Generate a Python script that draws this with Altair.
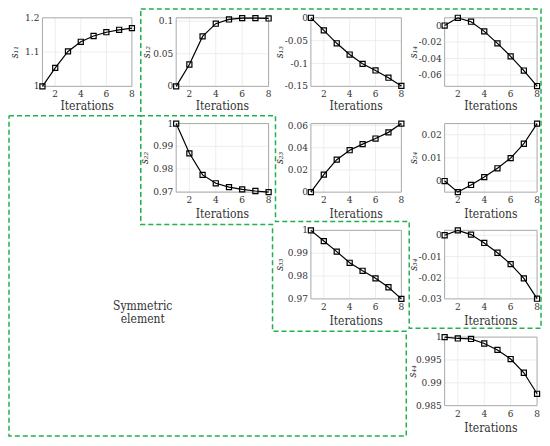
import altair as alt
import pandas as pd

# ---------------- data ----------------
ITER = [1, 2, 3, 4, 5, 6, 7, 8]

S11 = [1.0, 1.054, 1.102, 1.130, 1.147, 1.158, 1.165, 1.170]
S12 = [0.0, 0.0335, 0.0765, 0.096, 0.1025, 0.1045, 0.1045, 0.104]
S13 = [0.0, -0.0275, -0.0558, -0.0804, -0.1007, -0.1152, -0.131, -0.149]
S14 = [0.0, 0.0094, 0.0047, -0.007, -0.0216, -0.0373, -0.0545, -0.0733]
S22 = [1.0, 0.9869, 0.9774, 0.9737, 0.972, 0.971, 0.9703, 0.9698]
S23 = [0.0, 0.0158, 0.0293, 0.0378, 0.0433, 0.0483, 0.0539, 0.0618]
S24 = [0.0, -0.0048, -0.0017, 0.0017, 0.0055, 0.0099, 0.0161, 0.0248]
S33 = [1.0, 0.9953, 0.9907, 0.9858, 0.9823, 0.979, 0.9751, 0.970]
S34 = [0.0, 0.0023, 0.0003, -0.0036, -0.0082, -0.0135, -0.0202, -0.0297]
S44 = [1.0, 0.9997, 0.9996, 0.9986, 0.9972, 0.9952, 0.9922, 0.9876]

X_TICKS = [2, 4, 6, 8]
X_TICK_LABELS = ["2", "4", "6", "8"]
X_TITLE = "Iterations"

Y11_DOM, Y11_TICKS, Y11_LAB = [1.0, 1.2], [1.0, 1.1, 1.2], ["1", "1.1", "1.2"]
Y12_DOM, Y12_TICKS, Y12_LAB = [0.0, 0.105], [0.0, 0.05, 0.1], ["0", "0.05", "0.1"]
Y13_DOM, Y13_TICKS, Y13_LAB = [-0.15, 0.0], [-0.15, -0.1, -0.05, 0.0], ["-0.15", "-0.1", "-0.05", "0"]
Y14_DOM, Y14_TICKS, Y14_LAB = [-0.0737, 0.0094], [-0.06, -0.04, -0.02, 0.0], ["-0.06", "-0.04", "-0.02", "0"]
Y22_DOM, Y22_TICKS, Y22_LAB = [0.9698, 1.0], [0.97, 0.98, 0.99, 1.0], ["0.97", "0.98", "0.99", "1"]
Y23_DOM, Y23_TICKS, Y23_LAB = [0.0, 0.0618], [0.0, 0.02, 0.04, 0.06], ["0", "0.02", "0.04", "0.06"]
Y24_DOM, Y24_TICKS, Y24_LAB = [-0.0048, 0.0248], [0.0, 0.01, 0.02], ["0", "0.01", "0.02"]
Y33_DOM, Y33_TICKS, Y33_LAB = [0.97, 1.0], [0.97, 0.98, 0.99, 1.0], ["0.97", "0.98", "0.99", "1"]
Y34_DOM, Y34_TICKS, Y34_LAB = [-0.0298, 0.0023], [-0.03, -0.02, -0.01, 0.0], ["-0.03", "-0.02", "-0.01", "0"]
Y44_DOM, Y44_TICKS, Y44_LAB = [0.985, 1.0], [0.985, 0.99, 0.995, 1.0], ["0.985", "0.99", "0.995", "1"]

NOTE_LINES = ["Symmetric", "element"]

# ---------------- layout (pixels of the reference picture) ----------------
W, H = 534, 430
SX, SY = 532 / 541, 428 / 437


def px(x):
    return (x - 4) * SX + 1


def py(y):
    return (y - 3) * SY + 1


COL_L = [38, 174, 311, 447]
COL_R = [129, 268, 403, 541]
ROW_T = [12, 120, 229, 338]
ROW_B = [82, 190, 299, 408]

FONT = "DejaVu Serif Condensed"
TXT = "#333333"
GRID = "#e9e9e9"
FRAME = "#a8a8a8"
GREEN = "#22b14c"

PANELS = [
    ("s\u2081\u2081", S11, Y11_DOM, Y11_TICKS, Y11_LAB, 0, 0, -27),
    ("s\u2081\u2082", S12, Y12_DOM, Y12_TICKS, Y12_LAB, 0, 1, -29),
    ("s\u2081\u2083", S13, Y13_DOM, Y13_TICKS, Y13_LAB, 0, 2, -31),
    ("s\u2081\u2084", S14, Y14_DOM, Y14_TICKS, Y14_LAB, 0, 3, -31),
    ("s\u2082\u2082", S22, Y22_DOM, Y22_TICKS, Y22_LAB, 1, 1, -31),
    ("s\u2082\u2083", S23, Y23_DOM, Y23_TICKS, Y23_LAB, 1, 2, -31),
    ("s\u2082\u2084", S24, Y24_DOM, Y24_TICKS, Y24_LAB, 1, 3, -31),
    ("s\u2083\u2083", S33, Y33_DOM, Y33_TICKS, Y33_LAB, 2, 2, -31),
    ("s\u2083\u2084", S34, Y34_DOM, Y34_TICKS, Y34_LAB, 2, 3, -31),
    ("s\u2084\u2084", S44, Y44_DOM, Y44_TICKS, Y44_LAB, 3, 3, -32),
]


def panel(name, vals, dom, ticks, labs, row, col, yoff):
    xs = alt.Scale(domain=[1, 8], range=[px(COL_L[col]), px(COL_R[col])], nice=False, zero=False)
    ys = alt.Scale(domain=dom, range=[py(ROW_B[row]), py(ROW_T[row])], nice=False, zero=False)

    def X(f):
        return alt.X(f, type="quantitative", scale=xs, axis=None)

    def Y(f):
        return alt.Y(f, type="quantitative", scale=ys, axis=None)

    gx = pd.DataFrame({"x": X_TICKS[:-1], "y0": dom[0], "y1": dom[1]})
    grid_x = alt.Chart(gx).mark_rule(color=GRID, strokeWidth=0.8).encode(
        x=X("x"), y=Y("y0"), y2=alt.Y2("y1"))
    gyv = [t for t in ticks if dom[0] + 1e-9 < t < dom[1] - 1e-9]
    gy = pd.DataFrame({"y": gyv, "x0": 1, "x1": 8})
    grid_y = alt.Chart(gy).mark_rule(color=GRID, strokeWidth=0.8).encode(
        y=Y("y"), x=X("x0"), x2=alt.X2("x1"))
    fr = pd.DataFrame({"x0": [1], "x1": [8], "y0": [dom[0]], "y1": [dom[1]]})
    frame = alt.Chart(fr).mark_rect(fillOpacity=0, stroke=FRAME, strokeWidth=1).encode(
        x=X("x0"), x2=alt.X2("x1"), y=Y("y0"), y2=alt.Y2("y1"))

    d = pd.DataFrame({"it": ITER, "v": vals})
    line = alt.Chart(d).mark_line(color="black", strokeWidth=1.2).encode(x=X("it"), y=Y("v"))
    pts = alt.Chart(d).mark_point(shape="square", filled=False, color="black", size=26,
                                  strokeWidth=1.2, opacity=1).encode(x=X("it"), y=Y("v"))

    xl = pd.DataFrame({"x": X_TICKS, "t": X_TICK_LABELS, "y": dom[0]})
    xlab = alt.Chart(xl).mark_text(font=FONT, fontSize=10, color=TXT, baseline="middle",
                                   dy=8).encode(x=X("x"), y=Y("y"), text="t:N")
    yl = pd.DataFrame({"y": ticks, "t": labs, "x": 1})
    ylab = alt.Chart(yl).mark_text(font=FONT, fontSize=10, color=TXT, baseline="middle",
                                   align="right", dx=-3).encode(x=X("x"), y=Y("y"), text="t:N")
    xt = pd.DataFrame({"x": [4.5], "y": [dom[0]], "t": [X_TITLE]})
    xtitle = alt.Chart(xt).mark_text(font=FONT, fontSize=12, color=TXT, baseline="middle",
                                     dy=20 if row == 0 else 22).encode(x=X("x"), y=Y("y"), text="t:N")
    yt = pd.DataFrame({"x": [1], "y": [(dom[0] + dom[1]) / 2], "t": [name]})
    ytitle = alt.Chart(yt).mark_text(font=FONT, fontSize=10.5, fontStyle="italic", color=TXT,
                                     baseline="middle", align="center", angle=270,
                                     dy=yoff).encode(x=X("x"), y=Y("y"), text="t:N")
    return alt.layer(grid_x, grid_y, frame, line, pts, xlab, ylab, xtitle, ytitle)


layers = [panel(*p) for p in PANELS]

# dashed outlines (in reference-picture coordinates)
U_X = [138, 545, 545, 411, 411, 275, 275, 138, 138]
U_Y = [3, 3, 329, 329, 220, 220, 112, 112, 3]
S_X = [4, 138, 138, 272, 272, 408, 408, 4, 4]
S_Y = [112, 112, 223, 223, 332, 332, 439, 439, 112]

dsx = alt.Scale(domain=[0, 550], range=[px(0), px(550)], nice=False, zero=False)
dsy = alt.Scale(domain=[0, 446], range=[py(0), py(446)], nice=False, zero=False)

box = pd.DataFrame({
    "x": U_X + S_X,
    "y": U_Y + S_Y,
    "poly": ["U"] * len(U_X) + ["S"] * len(S_X),
    "i": list(range(len(U_X))) + list(range(len(S_X))),
})
dash = alt.Chart(box).mark_line(color=GREEN, strokeWidth=1.5, strokeDash=[5, 3]).encode(
    x=alt.X("x:Q", scale=dsx, axis=None),
    y=alt.Y("y:Q", scale=dsy, axis=None),
    detail="poly:N",
    order="i:Q",
)
note = pd.DataFrame({"x": [140, 140], "y": [306, 320], "t": NOTE_LINES})
note_txt = alt.Chart(note).mark_text(font=FONT, fontSize=12, color=TXT, baseline="middle").encode(
    x=alt.X("x:Q", scale=dsx, axis=None),
    y=alt.Y("y:Q", scale=dsy, axis=None),
    text="t:N",
)
deco = alt.layer(dash, note_txt)

chart = alt.layer(*layers, deco).resolve_scale(x="independent", y="independent").properties(
    width=W, height=H, padding=0, autosize=alt.AutoSizeParams(type="none")
).configure_view(stroke=None).configure_text(font=FONT)

chart.save("out.html", embed_options={"renderer": "svg", "actions": False})
